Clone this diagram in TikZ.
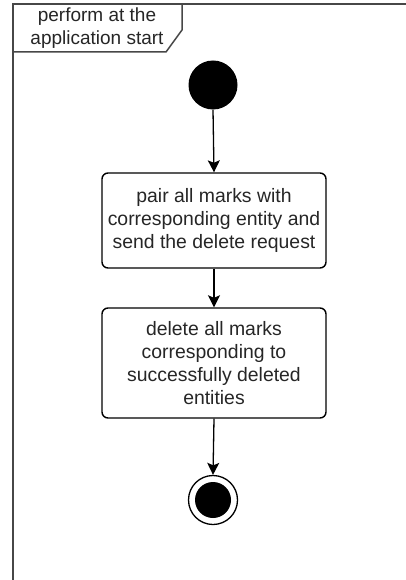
\documentclass[tikz,border=0pt]{standalone}
\usepackage{fontspec}
\setmainfont{Liberation Sans}
\usetikzlibrary{arrows.meta}
\begin{document}
\begin{tikzpicture}[x=1pt,y=-1pt,
  framepen/.style={draw=black!72,line width=1.5pt},
  actbox/.style={draw=black,line width=1.4pt,rounded corners=6pt,fill=white,
    minimum width=224pt,inner sep=0pt,align=center,
    font=\fontsize{19.4}{23}\selectfont,text=black!85},
  flow/.style={draw=black,line width=1.3pt,
    -{Stealth[length=12pt,width=12pt,inset=2.5pt]}},
  startdot/.style={circle,fill=black,minimum size=49pt,inner sep=0pt},
  endring/.style={circle,draw=black,line width=1.3pt,fill=white,minimum size=49pt,inner sep=0pt},
  enddot/.style={circle,fill=black,minimum size=36pt,inner sep=0pt}]
\useasboundingbox (0,0) rectangle (405,580);
\fill[white] (0,0) rectangle (405,580);

% activity frame and its name tab
\draw[framepen] (13,581) -- (13,4) -- (406,4);
\draw[framepen] (13,52) -- (166,52) -- (182,30) -- (182,4);
\node[font=\fontsize{19}{23}\selectfont,text=black!85,align=center] (title)
  at (97,28.5) {perform at the\\application start};

% nodes
\node[startdot] (init) at (213,85) {};
\node[actbox,minimum height=95pt] (pair) at (214,220.5)
  {pair all marks with\\corresponding entity and\\send the delete request};
\node[actbox,minimum height=110pt] (del) at (214,363)
  {delete all marks\\corresponding to\\successfully deleted\\entities};
\node[endring] (final) at (213,500) {};
\node[enddot] (finaldot) at (final.center) {};

% control flow
\draw[flow] (init.south) -- (pair.north);
\draw[flow] (pair.south) -- (del.north);
\draw[flow] (del.south) -- (final.north);
\end{tikzpicture}
\end{document}
